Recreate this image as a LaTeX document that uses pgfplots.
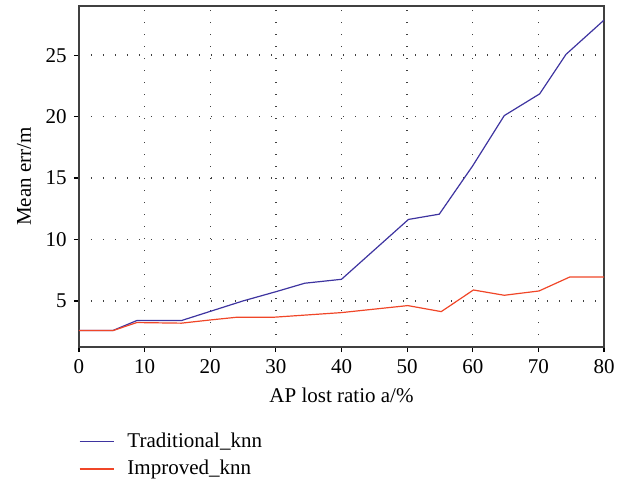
\documentclass[border=0pt]{standalone}
\usepackage{pgfplots}
\pgfplotsset{compat=1.18}
\usepackage{fontspec}
\setmainfont{Liberation Serif}
\definecolor{tradblue}{RGB}{62,52,160}
\definecolor{imprred}{RGB}{240,70,40}
\begin{document}
\fontsize{10.5}{12.6}\selectfont
\begin{tikzpicture}
\begin{axis}[
  name=ax,
  at={(0,0)}, anchor=south west,
  scale only axis,
  width=262.5pt, height=170.5pt,
  xmin=0, xmax=80,
  ymin=1.25, ymax=29,
  xtick={0,10,...,80},
  ytick={5,10,15,20,25},
  xtick pos=bottom, ytick pos=left,
  tick align=outside,
  major tick length=2.5pt,
  tick style={black, line width=0.6pt},
  axis line style={black!75, line width=0.8pt},
  grid=major,
  grid style={black!75, line width=0.7pt, dash pattern=on 0.7pt off 5.3pt},
  /pgf/number format/assume math mode=true,
  tick label style={font=\fontsize{10.5}{12.6}\selectfont},
  label style={font=\fontsize{10.5}{12.6}\selectfont},
  xlabel={AP lost ratio a/\%},
  ylabel={Mean err/m},
  legend image code/.code={%
    \draw[#1] (0cm,0cm) -- (0.6cm,0cm);
    \path (0.6cm+4.5pt,0cm);},
  legend style={draw=none, fill=none, at={(-0.012,-0.226)}, anchor=north west,
    legend cell align=left, row sep=1pt,
    font=\fontsize{10.5}{12.6}\selectfont},
]
  \addplot[tradblue, line width=0.6pt] coordinates {
    (0,2.6) (5.2,2.6) (8.8,3.4) (15.6,3.4) (20,4.15) (25,5.0)
    (30,5.75) (34.4,6.44) (40,6.76) (50.2,11.63) (54.9,12.06)
    (60,16.0) (64.8,20.08) (70.2,21.85) (74.2,25.06) (80,27.85)
  };
  \addlegendentry{Traditional\_knn}
  \addplot[imprred, line width=0.6pt] coordinates {
    (0,2.59) (5.2,2.59) (8.8,3.24) (15.6,3.19) (20,3.45) (24,3.67)
    (29.6,3.67) (40,4.05) (50.1,4.62) (55.2,4.13) (60.1,5.89)
    (64.8,5.46) (70.1,5.81) (74.8,6.95) (80,6.95)
  };
  \addlegendentry{Improved\_knn}
\end{axis}
\pgfresetboundingbox
\path (ax.south west) ++(-39.5pt,-68pt) rectangle ++(313.5pt,241.5pt);
\end{tikzpicture}
\end{document}
